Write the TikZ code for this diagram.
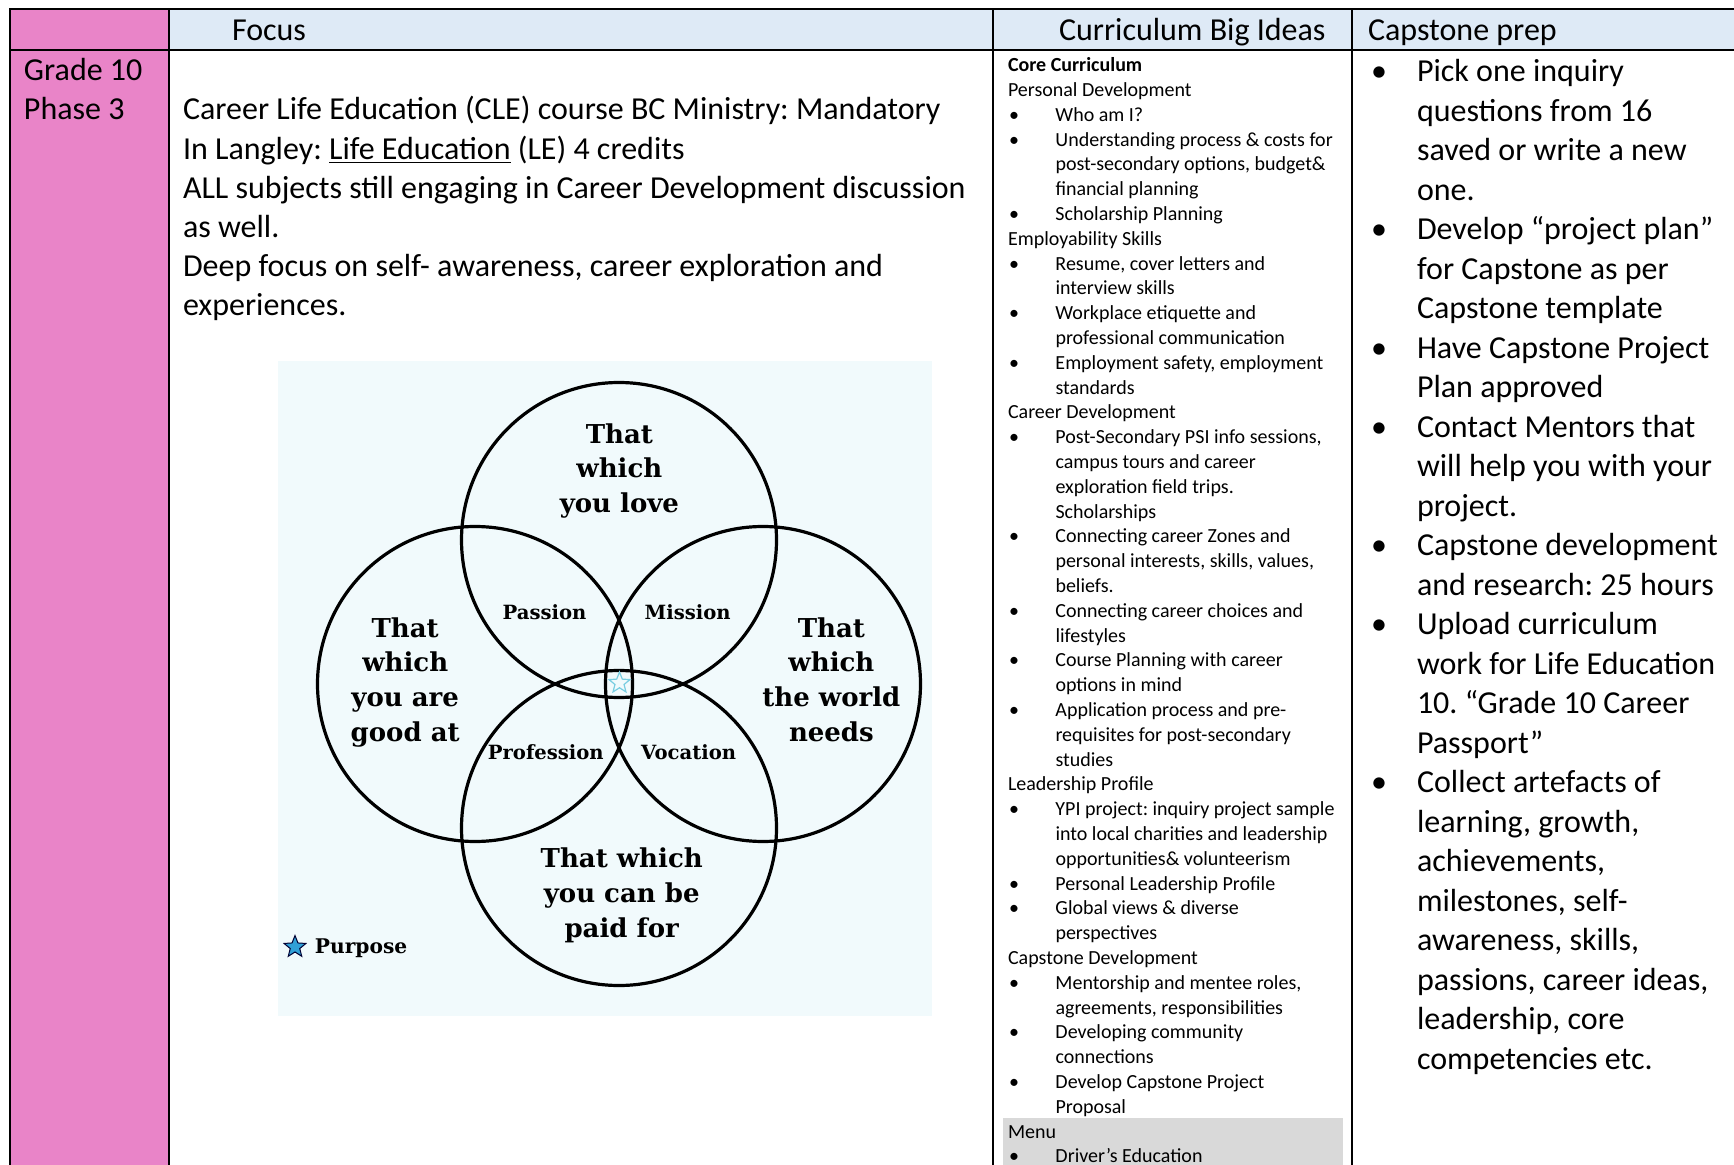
\documentclass[tikz,border=0pt]{standalone}
\usepackage{fontspec}
\setmainfont{Carlito}
\newfontfamily\vennfont{DejaVu Serif}
\usetikzlibrary{shapes.geometric}
\definecolor{pinkcol}{RGB}{233,132,200}
\definecolor{hdrblue}{RGB}{222,234,246}
\definecolor{menugray}{RGB}{217,217,217}
\definecolor{vennbg}{RGB}{241,250,252}
\definecolor{starblue}{RGB}{48,160,215}
\definecolor{starlight}{RGB}{120,205,225}
\newcommand\curb{\makebox[23.75pt][l]{\hspace*{0.6pt}\textbullet}}
\newcommand\curc{\hspace*{23.75pt}}
\newcommand\capb{\makebox[23.5pt][l]{\hspace*{0.5pt}\textbullet}}
\newcommand\capc{\hspace*{23.5pt}}
\tikzset{
  tline/.style={line width=1.1pt, black},
  vline/.style={line width=1.6pt, black},
  txt/.style={inner sep=0pt, outer sep=0pt, anchor=base west, align=left},
  bigtxt/.style={txt, font=\frenchspacing\fontsize{16}{19.6}\selectfont},
  hdrtxt/.style={txt, font=\fontsize{16}{19.4}\selectfont},
  curtxt/.style={txt, font=\frenchspacing\fontsize{10}{12.4}\selectfont},
  captxt/.style={txt, font=\frenchspacing\fontsize{16}{19.75}\selectfont},
  vennmain/.style={inner sep=0pt, anchor=base, align=center, font=\vennfont\bfseries\fontsize{13}{17.3}\selectfont},
  vennsmall/.style={inner sep=0pt, anchor=base, align=center, font=\vennfont\bfseries\fontsize{9.8}{11}\selectfont},
}
\begin{document}
\begin{tikzpicture}[x=0.5pt,y=-0.5pt]
\useasboundingbox (0,0) rectangle (1734,1165);
\fill[white] (0,0) rectangle (1734,1165);
% cell fills
\fill[pinkcol] (10,9) rectangle (169,1165);
\fill[hdrblue] (169,9) rectangle (1734,50);
\fill[menugray] (1003,1118) rectangle (1343,1165);
% table rules
\draw[tline] (10,1165) -- (10,9) -- (1734,9);
\draw[tline] (10,50) -- (1734,50);
\draw[tline] (169,9) -- (169,1165);
\draw[tline] (993,9) -- (993,1165);
\draw[tline] (1352,9) -- (1352,1165);

% header texts
\node[hdrtxt] (hfocus) at (232,40.5) {Focus};
\node[hdrtxt] (hcurr) at (1059,40.5) {Curriculum Big Ideas};
\node[hdrtxt] (hcap) at (1368,40.5) {Capstone prep};

% grade column (anchor = baseline of last line)
\node[txt, font=\fontsize{16}{19.5}\selectfont] (grade) at (24,120) {Grade 10\\Phase 3};

% focus text (anchor = baseline of last line)
\node[bigtxt] (focustext) at (183,316) {Career Life Education (CLE) course BC Ministry: Mandatory\\
In Langley: \underline{Life Education} (LE) 4 credits\\
ALL subjects still engaging in Career Development discussion\\
as well.\\
Deep focus on self- awareness, career exploration and\\
experiences.};

% curriculum column (anchor = baseline of last line)
\node[curtxt] (curr) at (1008,1162.8) {\textbf{Core Curriculum}\\
Personal Development\\
\curb Who am I?\\
\curb Understanding process \& costs for\\
\curc post-secondary options, budget\&\\
\curc financial planning\\
\curb Scholarship Planning\\
Employability Skills\\
\curb Resume, cover letters and\\
\curc interview skills\\
\curb Workplace etiquette and\\
\curc professional communication\\
\curb Employment safety, employment\\
\curc standards\\
Career Development\\
\curb Post-Secondary PSI info sessions,\\
\curc campus tours and career\\
\curc exploration field trips.\\
\curc Scholarships\\
\curb Connecting career Zones and\\
\curc personal interests, skills, values,\\
\curc beliefs.\\
\curb Connecting career choices and\\
\curc lifestyles\\
\curb Course Planning with career\\
\curc options in mind\\
\curb Application process and pre-\\
\curc requisites for post-secondary\\
\curc studies\\
Leadership Profile\\
\curb YPI project: inquiry project sample\\
\curc into local charities and leadership\\
\curc opportunities\& volunteerism\\
\curb Personal Leadership Profile\\
\curb Global views \& diverse\\
\curc perspectives\\
Capstone Development\\
\curb Mentorship and mentee roles,\\
\curc agreements, responsibilities\\
\curb Developing community\\
\curc connections\\
\curb Develop Capstone Project\\
\curc Proposal\\
Menu\\
\curb Driver’s Education};

% capstone column (anchor = baseline of last line)
\node[captxt] (cap) at (1370,1069.2) {\capb Pick one inquiry\\
\capc questions from 16\\
\capc saved or write a new\\
\capc one.\\
\capb Develop “project plan”\\
\capc for Capstone as per\\
\capc Capstone template\\
\capb Have Capstone Project\\
\capc Plan approved\\
\capb Contact Mentors that\\
\capc will help you with your\\
\capc project.\\
\capb Capstone development\\
\capc and research: 25 hours\\
\capb Upload curriculum\\
\capc work for Life Education\\
\capc 10. “Grade 10 Career\\
\capc Passport”\\
\capb Collect artefacts of\\
\capc learning, growth,\\
\capc achievements,\\
\capc milestones, self-\\
\capc awareness, skills,\\
\capc passions, career ideas,\\
\capc leadership, core\\
\capc competencies etc.};

% Venn picture
\fill[vennbg] (278,361) rectangle (932,1016);
\draw[vline] (619,540) circle[radius=78.75pt];
\draw[vline] (475,684) circle[radius=78.75pt];
\draw[vline] (763,684) circle[radius=78.75pt];
\draw[vline] (619,828) circle[radius=78.75pt];

\node[vennmain] (love) at (619.4,512.5) {That\\which\\you love};
\node[vennmain] (good) at (405.2,741) {That\\which\\you are\\good at};
\node[vennmain] (world) at (831.4,741) {That\\which\\the world\\needs};
\node[vennmain] (paid) at (621.7,937) {That which\\you can be\\paid for};

\node[vennsmall] (passion) at (544.5,619) {Passion};
\node[vennsmall] (mission) at (687.7,619) {Mission};
\node[vennsmall] (profession) at (545.8,759.7) {Profession};
\node[vennsmall] (vocation) at (688.6,759.7) {Vocation};

\node[star, star points=5, star point ratio=2.3, minimum size=11pt, inner sep=0pt,
      draw=starlight, fill=vennbg, line width=0.6pt] (purposecentre) at (619.5,683) {};
\node[star, star points=5, star point ratio=2.3, minimum size=11.5pt, inner sep=0pt,
      draw=black!80!blue, fill=starblue, line width=0.5pt] (purposestar) at (295,947) {};
\node[vennsmall, anchor=base west, font=\vennfont\bfseries\fontsize{10.1}{11}\selectfont] (purpose) at (314.5,953.5) {Purpose};
\end{tikzpicture}
\end{document}
